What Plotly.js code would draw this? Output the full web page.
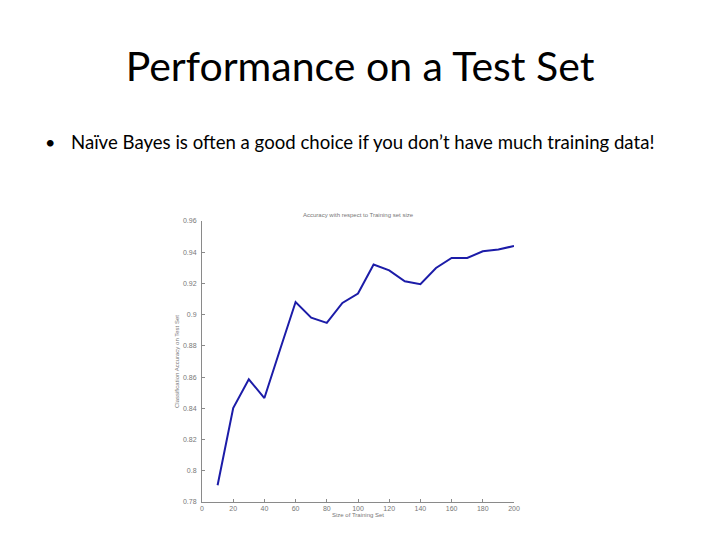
<!DOCTYPE html>
<html>
<head>
<meta charset="utf-8">
<script src="https://cdn.plot.ly/plotly-3.0.1.min.js"></script>
<style>
  html, body { margin: 0; padding: 0; background: white; }
  #chart { width: 720px; height: 540px; }
</style>
</head>
<body>
<div id="chart"></div>
<script>
// training set size vs. test-set accuracy
const trainSize = [10, 20, 30, 40, 50, 60, 70, 80, 90, 100,
                   110, 120, 130, 140, 150, 160, 170, 180, 190, 200];
const accuracy = [0.7907, 0.8402, 0.8586, 0.8466, 0.8775, 0.9081, 0.8981, 0.8947, 0.9075, 0.9135,
                  0.9321, 0.9284, 0.9214, 0.9195, 0.9299, 0.9363, 0.9363, 0.9406, 0.9417, 0.9440];
const yTicks = [0.78, 0.8, 0.82, 0.84, 0.86, 0.88, 0.9, 0.92, 0.94, 0.96];
const xTicks = [0, 20, 40, 60, 80, 100, 120, 140, 160, 180, 200];

const slideTitle = 'Performance on a Test Set';
const bulletText = 'Naïve Bayes is often a good choice if you don’t have much training data!';
const plotTitle = 'Accuracy with respect to Training set size';
const xLabel = 'Size of Training Set';
const yLabel = 'Classification Accuracy on Test Set';

// plot box in page pixels
const W = 720, H = 540;
const box = { l: 202, r: 514, t: 221, b: 502 };
const px = x => (x - box.l) / (box.r - box.l);
const py = y => (box.b - y) / (box.b - box.t);

const slideFont = 'Lato, "Open Sans", sans-serif';
const smallFont = { family: '"Liberation Sans", Arial, sans-serif', size: 6, color: '#777' };
const tickFont = { family: '"Liberation Sans", Arial, sans-serif', size: 7, color: '#777' };

const trace = {
    x: trainSize, y: accuracy,
    type: 'scatter', mode: 'lines',
    line: { color: '#1c1ca8', width: 2 },
    hoverinfo: 'x+y'
};

const axisCommon = {
    showgrid: false, zeroline: false,
    showline: true, linecolor: '#8a8a8a', linewidth: 1,
    ticks: 'inside', ticklen: 3, tickcolor: '#8a8a8a',
    tickfont: tickFont, fixedrange: true
};

const layout = {
    width: W, height: H,
    margin: { l: box.l, r: W - box.r, t: box.t, b: H - box.b, pad: 0 },
    paper_bgcolor: 'white', plot_bgcolor: 'white',
    showlegend: false,
    title: {
        text: slideTitle,
        font: { family: slideFont, size: 41, color: '#000' },
        x: 0.5, xanchor: 'center',
        y: 1 - 67 / H, yanchor: 'middle', yref: 'container'
    },
    xaxis: Object.assign({}, axisCommon, {
        range: [0, 200], tickvals: xTicks,
        title: { text: xLabel, font: smallFont, standoff: 1 }
    }),
    yaxis: Object.assign({}, axisCommon, {
        range: [0.78, 0.96], tickvals: yTicks,
        tickformat: '.2~f', ticklabelstandoff: 3,
        title: { text: yLabel, font: smallFont, standoff: 2 }
    }),
    annotations: [
        {
            text: '•', xref: 'paper', yref: 'paper',
            x: px(43), y: py(142), xanchor: 'left', yanchor: 'middle',
            showarrow: false, font: { family: slideFont, size: 18, color: '#000' }
        },
        {
            text: bulletText, xref: 'paper', yref: 'paper',
            x: px(69), y: py(142), xanchor: 'left', yanchor: 'middle',
            showarrow: false, font: { family: slideFont, size: 18.6, color: '#000' }
        },
        {
            text: plotTitle, xref: 'paper', yref: 'paper',
            x: 0.5, y: py(215), xanchor: 'center', yanchor: 'middle',
            showarrow: false, font: smallFont
        }
    ]
};

Plotly.newPlot('chart', [trace], layout, { displayModeBar: false });
</script>
</body>
</html>
